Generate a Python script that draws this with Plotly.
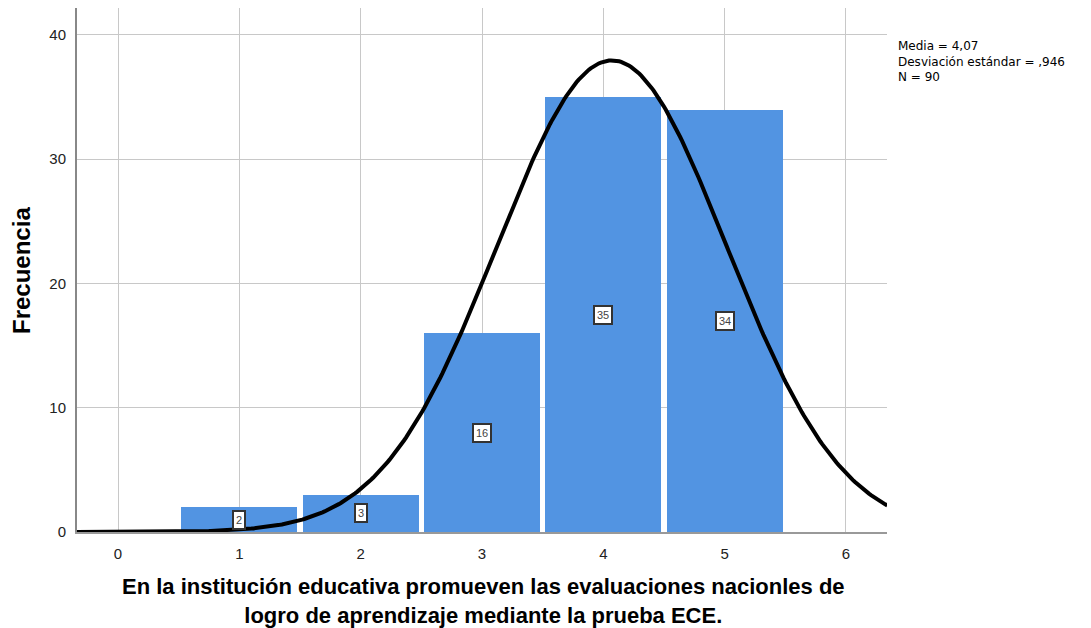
import numpy as np
import plotly.graph_objects as go

categories = [1, 2, 3, 4, 5]
counts = [2, 3, 16, 35, 34]
mean_val = 4.07
sd_val = 0.946
n_val = 90
x_ticks = [0, 1, 2, 3, 4, 5, 6]
y_ticks = [0, 10, 20, 30, 40]
stats_lines = ["Media = 4,07", "Desviación estándar = ,946", "N = 90"]
title_lines = ["En la institución educativa promueven las evaluaciones nacionles de",
               "logro de aprendizaje mediante la prueba ECE."]

# page geometry (the page has an 8px body offset)
PL, PR, PT, PB = 77, 887, 8, 532
def px(x):
    return (x - PL) / (PR - PL)
def py(y):
    return (PB - y) / (PB - PT)

fig = go.Figure()
fig.add_trace(go.Bar(x=categories, y=counts, width=0.955,
                     marker=dict(color="#5294e2", line=dict(width=0)),
                     showlegend=False, hoverinfo="skip"))

xs = np.linspace(-0.34, 6.34, 400)
ys = n_val * np.exp(-0.5 * ((xs - mean_val) / sd_val) ** 2) / (sd_val * np.sqrt(2 * np.pi))
fig.add_trace(go.Scatter(x=xs, y=ys, mode="lines", line=dict(color="black", width=4),
                         showlegend=False, hoverinfo="skip"))

for c, v in zip(categories, counts):
    fig.add_annotation(x=c, y=v / 2, text=str(v), showarrow=False,
                       font=dict(size=11, color="#444444", family="Liberation Sans, Arial"),
                       bgcolor="white", bordercolor="#333333", borderwidth=2, borderpad=2)

fig.add_annotation(xref="paper", yref="paper", x=px(896), y=py(37),
                   xanchor="left", yanchor="top", align="left", showarrow=False,
                   text="<br>".join(stats_lines),
                   font=dict(size=12, color="black", family="DejaVu Sans"))

fig.add_annotation(xref="paper", yref="paper", x=px(483), y=py(601),
                   xanchor="center", yanchor="middle", align="center", showarrow=False,
                   text="<br>".join("<b>" + t + "</b>" for t in title_lines),
                   font=dict(size=22, color="black", family="Liberation Sans, Arial"))

fig.add_annotation(xref="paper", yref="paper", x=px(21), y=py(271),
                   xanchor="center", yanchor="middle", showarrow=False, textangle=-90,
                   text="<b>Frecuencia</b>",
                   font=dict(size=24, color="black", family="Liberation Sans, Arial"))

fig.update_layout(
    width=1091, height=628,
    margin=dict(l=PL - 8, r=1091 - PR + 8, t=PT - 8, b=628 - PB + 8, autoexpand=False),
    plot_bgcolor="white", paper_bgcolor="white",
    font=dict(family="Liberation Sans, Arial", color="black"),
    bargap=0,
    xaxis=dict(range=[-0.338, 6.338], tickvals=x_ticks, showgrid=True, gridcolor="#c8c8c8", gridwidth=1,
               showline=True, linecolor="#999999", linewidth=1.5, zeroline=False,
               ticks="outside", ticklen=7, tickcolor="rgba(0,0,0,0)",
               tickfont=dict(size=15, color="#222222")),
    yaxis=dict(range=[0, 42.17], tickvals=y_ticks, showgrid=True, gridcolor="#c8c8c8", gridwidth=1,
               showline=True, linecolor="#888888", linewidth=2, zeroline=False,
               ticks="outside", ticklen=6, tickcolor="rgba(0,0,0,0)",
               tickfont=dict(size=15, color="#222222")),
)

fig.write_html("out.html")
